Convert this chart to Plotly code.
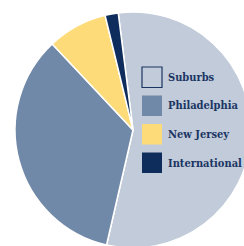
import plotly.graph_objects as go

labels = ["Suburbs", "Philadelphia", "New Jersey", "International"]
values = [55.6, 34.4, 8.2, 1.8]
colors = ["#c1cbd9", "#7189a9", "#fedb79", "#0f2d5c"]
text_color = "#1b3563"

W, H = 252, 250

fig = go.Figure(go.Pie(
    labels=labels,
    values=values,
    sort=False,
    direction="clockwise",
    rotation=-7.2,
    marker=dict(colors=colors, line=dict(color="white", width=1.5)),
    textinfo="none",
    hoverinfo="label+percent",
    showlegend=False,
    domain=dict(x=[15 / W, 251 / W], y=[1 - 248 / H, 1 - 12 / H]),
))

# custom legend (swatches + labels)
sw_x0, sw_x1 = 142, 162
row_tops = [67, 95.5, 124, 152.5]
shapes = []
annotations = []
for i, (lab, col) in enumerate(zip(labels, colors)):
    t = row_tops[i]
    shapes.append(dict(
        type="rect", xref="paper", yref="paper",
        x0=sw_x0 / W, x1=sw_x1 / W, y0=1 - (t + 20.5) / H, y1=1 - t / H,
        fillcolor=col,
        line=dict(color=text_color if i == 0 else col, width=1.2 if i == 0 else 0),
    ))
    annotations.append(dict(
        x=166 / W, y=1 - (t + 10.5) / H, xref="paper", yref="paper",
        text="<b>" + lab + "</b>", showarrow=False, xanchor="left", yanchor="middle",
        font=dict(family="DejaVu Serif Condensed, DejaVu Serif", size=11, color=text_color),
    ))

fig.update_layout(
    width=W, height=H,
    margin=dict(l=0, r=0, t=0, b=0),
    paper_bgcolor="white",
    plot_bgcolor="white",
    shapes=shapes,
    annotations=annotations,
)

fig.write_html(
    "out.html",
    config={"displayModeBar": False},
    post_script="document.body.style.margin='0';document.body.style.overflow='hidden';document.documentElement.style.overflow='hidden';",
)
